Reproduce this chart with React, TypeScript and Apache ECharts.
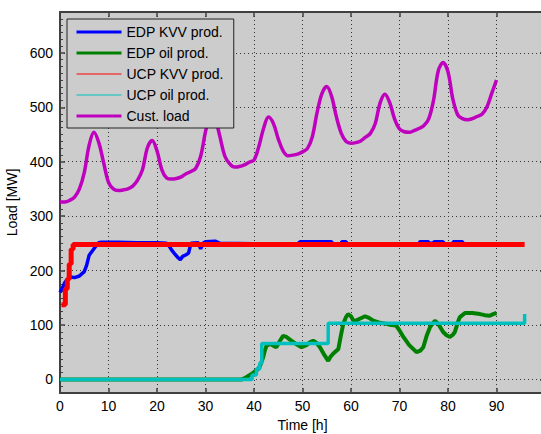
import React, { useEffect, useRef } from "react";
import * as echarts from "echarts";

// Time [h], value [MW]
const edpKvv: [number, number][] = [
  [0, 160], [0.5, 168], [1, 178], [1.5, 184], [2, 188], [3, 187], [4, 190], [5, 198], [5.5, 210], [6, 228],
  [7, 240], [7.5, 246], [8, 251], [8.5, 252], [12, 252], [16, 251], [20, 251], [22, 250], [22.5, 245],
  [23, 238], [23.7, 230], [24.3, 224], [24.8, 220], [25.3, 226], [26, 229], [26.5, 232], [27, 250],
  [28.5, 251], [29, 240], [29.5, 250], [30, 253], [32, 254], [33, 250], [40, 249], [49, 249], [49.5, 253],
  [56, 253], [56.2, 249], [58, 249], [58.1, 253], [59, 253], [59.1, 249], [74, 249], [74.2, 253], [76, 253],
  [76.1, 250], [77, 250], [77.1, 253], [79, 253], [79.1, 249], [81, 249], [81.1, 253], [83, 253], [83.1, 249],
  [90, 249],
];

const edpOil: [number, number][] = [
  [0, 0], [37.5, 0], [38, 2], [38.4, 4], [39.5, 10], [40.2, 15], [40.9, 19], [41.4, 28], [41.9, 41],
  [42.3, 55], [42.6, 62], [43.3, 65], [44, 62], [44.6, 59], [45.3, 70], [46, 80], [46.7, 78], [47.4, 73],
  [48.5, 66], [49.8, 59], [50.8, 63], [51.5, 68], [52.2, 71], [52.9, 67], [53.6, 59], [54.5, 45], [55.3, 34],
  [55.8, 42], [56.3, 47], [57.4, 56], [57.9, 80], [58.4, 102], [59, 115], [59.4, 120], [60, 116], [60.5, 108],
  [61.1, 108], [61.7, 111], [62.9, 116], [63.7, 113], [64.6, 108], [66, 104], [67.3, 102], [68.3, 100],
  [69.3, 99], [70, 90], [70.8, 78], [72, 63], [73.5, 50], [74.3, 53], [74.9, 59], [75.6, 80], [76.3, 96],
  [77.3, 108], [78, 102], [79, 87], [79.7, 81], [80.4, 78], [81, 82], [81.4, 87], [82, 104], [82.4, 114],
  [83.5, 122], [85, 122], [86.6, 120], [87.6, 118], [88.6, 117], [89.3, 120], [90, 122],
];

const ucpKvv: [number, number][] = [
  [0.3, 137], [1.1, 137], [1.1, 166], [1.5, 166], [1.5, 184], [1.9, 184], [1.9, 212], [2.3, 212],
  [2.3, 239], [2.7, 239], [2.7, 248], [95.8, 248],
];

const ucpOil: [number, number][] = [
  [0, 0], [39.6, 0], [39.6, 8], [40.5, 8], [40.5, 19], [41.2, 19], [41.2, 30], [41.6, 30], [41.6, 66],
  [55.3, 66], [55.3, 103], [95.8, 103], [95.8, 120],
];

const custLoad: [number, number][] = [
  [0, 326], [1, 326], [2, 329], [3, 335], [4, 350], [5, 380], [6, 430], [7, 454], [8, 435], [9, 398],
  [10, 362], [11, 350], [12, 347], [13, 348], [14, 350], [15, 355], [16, 366], [17, 385], [18, 425],
  [19, 439], [20, 420], [21, 385], [22, 370], [23, 368], [24, 369], [25, 372], [26, 378], [27, 382],
  [28, 388], [29, 410], [30, 455], [31, 490], [31.5, 495], [32, 482], [33, 445], [34, 410], [35, 396],
  [36, 390], [37, 391], [38, 394], [39, 399], [40, 403], [41, 428], [42, 462], [43, 482], [44, 470],
  [45, 442], [46, 420], [47, 411], [48, 412], [49, 414], [50, 418], [51, 424], [52, 445], [53, 490],
  [54, 525], [55, 538], [56, 520], [57, 482], [58, 452], [59, 437], [60, 434], [61, 435], [62, 438],
  [63, 445], [64, 452], [65, 470], [66, 508], [67, 524], [68, 508], [69, 478], [70, 460], [71, 455],
  [72, 454], [73, 457], [74, 461], [75, 466], [76, 478], [77, 512], [78, 567], [79, 582], [80, 565],
  [81, 515], [82, 486], [83, 479], [84, 477], [85, 479], [86, 483], [87, 487], [88, 500], [89, 525],
  [90, 550],
];

const seriesNames = ["EDP KVV prod.", "EDP oil prod.", "UCP KVV prod.", "UCP oil prod.", "Cust. load"];
const seriesColors = ["#0000ff", "#008000", "#ff0000", "#00bfbf", "#bf00bf"];

const FONT = "Liberation Sans, Arial, sans-serif";

export default function App() {
  const ref = useRef<HTMLDivElement>(null);

  useEffect(() => {
    if (!ref.current) return;
    const chart = echarts.init(ref.current, null, { renderer: "svg" });
    const axisColor = "#404040";
    const gridLine = { show: true, lineStyle: { color: "#333", width: 1, type: [1, 3] as any } };
    const datasets = [edpKvv, edpOil, ucpKvv, ucpOil, custLoad];
    const widths = [3.5, 4, 5, 3.5, 3.5];
    const legendWidths = [3, 3, 1, 1, 3];

    chart.setOption({
      animation: false,
      backgroundColor: "#ffffff",
      textStyle: { fontFamily: FONT },
      grid: {
        left: 60,
        top: 12,
        width: 485,
        height: 381,
        show: true,
        backgroundColor: "#cccccc",
        borderWidth: 0,
        containLabel: false,
        outerBoundsMode: "none",
      },
      legend: {
        orient: "vertical",
        left: 67,
        top: 19,
        padding: [6, 10, 5, 8],
        itemGap: 7,
        itemWidth: 45,
        itemHeight: 14,
        backgroundColor: "#cccccc",
        borderColor: "#222",
        borderWidth: 1,
        borderRadius: 0,
        selectedMode: false,
        textStyle: { fontSize: 14, color: "#000", fontFamily: FONT },
        data: seriesNames.map((n, i) => ({
          name: n,
          itemStyle: { color: "rgba(0,0,0,0)", borderWidth: 0, opacity: 0 },
          lineStyle: { width: legendWidths[i], color: seriesColors[i], opacity: 1 },
        })),
      },
      xAxis: [
        {
          type: "value",
          min: 0,
          max: 100,
          interval: 10,
          position: "bottom",
          name: "Time [h]",
          nameLocation: "middle",
          nameGap: 24,
          nameTextStyle: { fontSize: 14, color: "#000", fontFamily: FONT },
          axisLine: { show: true, onZero: false, lineStyle: { color: axisColor, width: 2 } },
          axisTick: { show: true, inside: true, length: 5, lineStyle: { color: axisColor, width: 1.5 } },
          axisLabel: {
            fontSize: 14,
            color: "#000",
            margin: 6,
            fontFamily: FONT,
            formatter: (v: number) => (v >= 100 ? "" : String(v)),
          },
          splitLine: gridLine,
        },
        {
          type: "value",
          min: 0,
          max: 100,
          interval: 10,
          position: "top",
          axisLine: { show: true, onZero: false, lineStyle: { color: axisColor, width: 2 } },
          axisTick: { show: true, inside: true, length: 5, lineStyle: { color: axisColor, width: 1.5 } },
          axisLabel: { show: false },
          splitLine: { show: false },
        },
      ],
      yAxis: [
        {
          type: "value",
          min: -25,
          max: 675,
          splitNumber: 7,
          position: "left",
          name: "Load [MW]",
          nameLocation: "middle",
          nameGap: 38,
          nameTextStyle: { fontSize: 14, color: "#000", fontFamily: FONT },
          axisLine: { show: true, onZero: false, lineStyle: { color: axisColor, width: 2 } },
          axisTick: { show: true, inside: true, length: 5, lineStyle: { color: axisColor, width: 1.5 } },
          minorTick: { show: true, splitNumber: 8, length: 3, lineStyle: { color: axisColor, width: 1 } },
          axisLabel: {
            fontSize: 14,
            color: "#000",
            margin: 7,
            fontFamily: FONT,
            showMinLabel: false,
            showMaxLabel: false,
          },
          splitLine: gridLine,
        },
        {
          type: "value",
          min: -25,
          max: 675,
          splitNumber: 7,
          position: "right",
          axisLine: { show: true, onZero: false, lineStyle: { color: axisColor, width: 2 } },
          axisTick: { show: true, inside: true, length: 5, lineStyle: { color: axisColor, width: 1.5 } },
          axisLabel: { show: false },
          splitLine: { show: false },
        },
      ],
      series: datasets.map((d, i) => ({
        name: seriesNames[i],
        type: "line",
        data: d,
        xAxisIndex: 0,
        yAxisIndex: 0,
        symbol: "none",
        smooth: i === 4 ? 0.35 : false,
        lineStyle: { color: seriesColors[i], width: widths[i] },
        itemStyle: { color: seriesColors[i] },
        emphasis: { disabled: true },
      })),
    });

    return () => chart.dispose();
  }, []);

  return (
    <div
      ref={ref}
      style={{ position: "absolute", left: 0, top: 0, width: 541, height: 434, background: "#fff" }}
    />
  );
}
